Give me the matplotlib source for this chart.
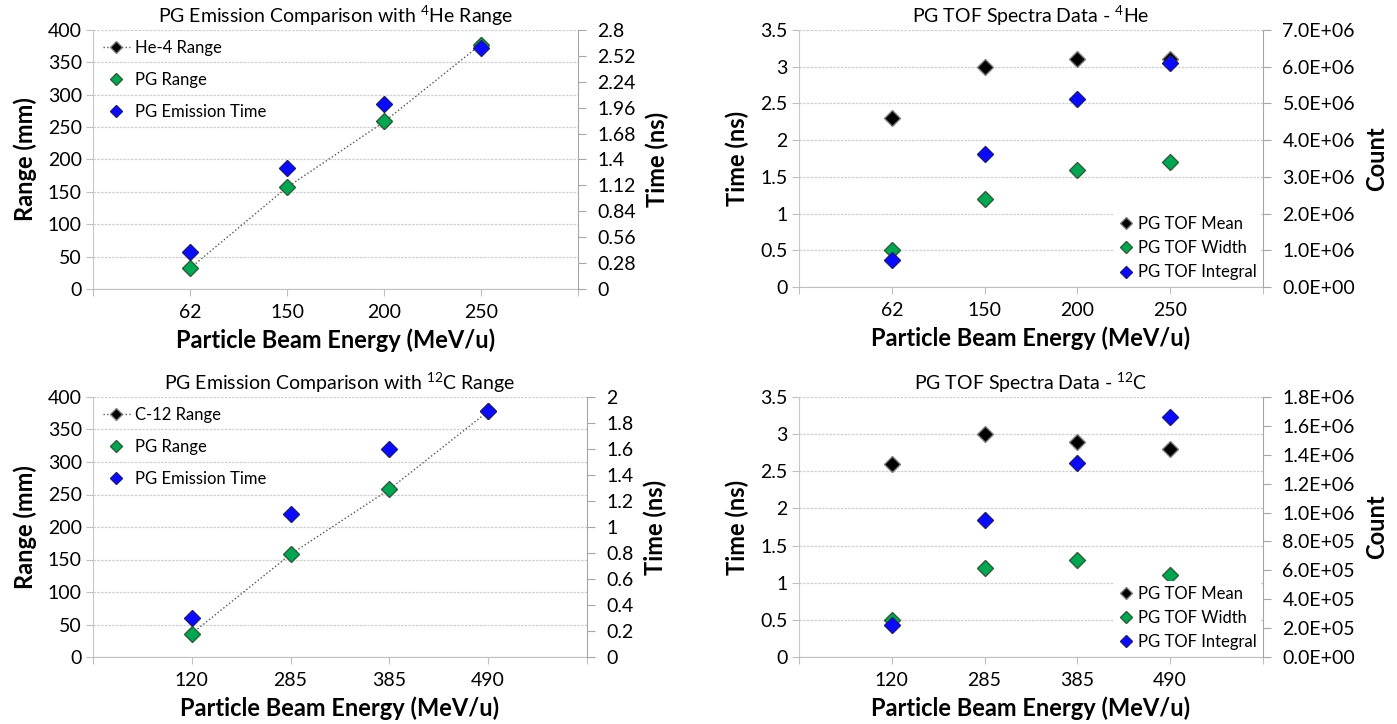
import matplotlib.pyplot as plt
from matplotlib.ticker import MultipleLocator, FuncFormatter

plt.rcParams['font.family'] = ['Lato', 'DejaVu Sans']
plt.rcParams['mathtext.fontset'] = 'custom'
plt.rcParams['mathtext.rm'] = 'Lato'

# helium-4 beam
he_energy = ['62', '150', '200', '250']
he_range = [32, 157, 258, 378]
he_pg_range = [32, 157, 259, 377]
he_pg_time = [0.40, 1.31, 2.00, 2.60]
he_tof_mean = [2.3, 3.0, 3.1, 3.1]
he_tof_width = [0.5, 1.2, 1.6, 1.7]
he_tof_integral = [7.4e5, 3.62e6, 5.13e6, 6.10e6]

# carbon-12 beam
c_energy = ['120', '285', '385', '490']
c_range = [36, 158, 258, 378]
c_pg_range = [36, 158, 259, 378]
c_pg_time = [0.30, 1.10, 1.60, 1.89]
c_tof_mean = [2.6, 3.0, 2.9, 2.8]
c_tof_width = [0.5, 1.2, 1.3, 1.1]
c_tof_integral = [2.2e5, 9.5e5, 1.34e6, 1.66e6]

GREEN = '#00a651'
BLUE = '#0a0aff'
GRID = '#cfcfcf'
SPINE = '#a6a6a6'

fig = plt.figure(figsize=(13.97, 7.24), dpi=100)

W, H = 1397, 724


def make_axes(left, right, top, bottom):
    return fig.add_axes([left / W, 1 - bottom / H, (right - left) / W, (bottom - top) / H])


def style(ax, ax2, labels, title, ylabel, y2label):
    ax.set_xlim(0, 5)
    ax.set_xticks(range(6))
    ax.set_xticklabels([''] + labels + [''])
    ax.yaxis.grid(True, color=GRID, linestyle=(0, (2, 1)), linewidth=0.9)
    ax.set_axisbelow(True)
    for s in ['top', 'right']:
        ax.spines[s].set_visible(False)
    for s in ['top', 'left', 'bottom']:
        ax2.spines[s].set_visible(False)
    ax.spines['left'].set_color('#c8c8c8')
    ax.spines['bottom'].set_color('#bfbfbf')
    ax2.spines['right'].set_color(SPINE)
    ax.tick_params(axis='both', length=5, color='#bfbfbf', labelsize=14, pad=3)
    ax.tick_params(axis='x', pad=6)
    ax2.tick_params(axis='y', length=6, color=SPINE, labelsize=14, pad=8)
    ax.set_title(title, fontsize=14, pad=5)
    ax.set_xlabel('Particle Beam Energy (MeV/u)', fontsize=17, fontweight='bold', labelpad=5)
    ax.set_ylabel(ylabel, fontsize=17, fontweight='bold', labelpad=8)
    ax2.set_ylabel(y2label, fontsize=17, fontweight='bold', labelpad=7)


def range_panel(ax, energy, rng, pg_rng, pg_time, name, tmax, tstep, tfmt, title):
    ax2 = ax.twinx()
    x = range(1, len(energy) + 1)
    h1, = ax.plot(x, rng, ls=':', lw=1, color='#555555', marker='D', ms=7.5,
                  mfc='black', mec='#7f7f7f', label=name)
    h2, = ax.plot(x, pg_rng, ls='none', marker='D', ms=8, mfc=GREEN, mec='#2d5e3a',
                  label='PG Range')
    h3, = ax2.plot(x, pg_time, ls='none', marker='D', ms=8, mfc=BLUE, mec='#1a1a80',
                   label='PG Emission Time')
    ax.set_ylim(0, 400)
    ax.yaxis.set_major_locator(MultipleLocator(50))
    ax2.set_ylim(0, tmax)
    ax2.yaxis.set_major_locator(MultipleLocator(tstep))
    ax2.yaxis.set_major_formatter(FuncFormatter(tfmt))
    style(ax, ax2, energy, title, 'Range (mm)', 'Time (ns)')
    ax2.legend([h1, h2, h3], [h.get_label() for h in (h1, h2, h3)], loc='upper left',
               frameon=False, fontsize=12, markerscale=0.8, handlelength=1.6,
               handletextpad=0.3, labelspacing=0.95, borderaxespad=0.2,
               bbox_to_anchor=(0.0, 1.0))


def tof_panel(ax, energy, mean, width, integral, cmax, cstep, title):
    ax2 = ax.twinx()
    x = range(1, len(energy) + 1)
    h1, = ax.plot(x, mean, ls='none', marker='D', ms=8, mfc='black', mec='#808080',
                  label='PG TOF Mean')
    h2, = ax.plot(x, width, ls='none', marker='D', ms=8, mfc=GREEN, mec='#2d5e3a',
                  label='PG TOF Width')
    h3, = ax2.plot(x, integral, ls='none', marker='D', ms=8, mfc=BLUE, mec='#1a1a80',
                   label='PG TOF Integral')
    ax.set_ylim(0, 3.5)
    ax.yaxis.set_major_locator(MultipleLocator(0.5))
    ax.yaxis.set_major_formatter(FuncFormatter(lambda v, p: f'{v:g}'))
    ax2.set_ylim(0, cmax)
    ax2.yaxis.set_major_locator(MultipleLocator(cstep))
    ax2.yaxis.set_major_formatter(FuncFormatter(lambda v, p: f'{v:.1E}'))
    style(ax, ax2, energy, title, 'Time (ns)', 'Count')
    leg = ax2.legend([h1, h2, h3], [h.get_label() for h in (h1, h2, h3)],
                     loc='lower right', frameon=True, fontsize=12, markerscale=0.8,
                     handlelength=0.8, handletextpad=0.3, labelspacing=0.5,
                     borderaxespad=0.1, borderpad=0.3)
    leg.get_frame().set_facecolor('white')
    leg.get_frame().set_edgecolor('none')
    leg.get_frame().set_alpha(1)


ax1 = make_axes(93, 578, 30, 289)
ax2 = make_axes(799, 1263, 30, 287)
ax3 = make_axes(93, 587, 397, 657)
ax4 = make_axes(799, 1263, 397, 657)

range_panel(ax1, he_energy, he_range, he_pg_range, he_pg_time, 'He-4 Range',
            2.8, 0.28, lambda v, p: f'{round(v, 2):g}',
            r'PG Emission Comparison with $\mathregular{^{4}}$He Range')
tof_panel(ax2, he_energy, he_tof_mean, he_tof_width, he_tof_integral, 7.0e6, 1.0e6,
          r'PG TOF Spectra Data - $\mathregular{^{4}}$He')
range_panel(ax3, c_energy, c_range, c_pg_range, c_pg_time, 'C-12 Range',
            2.0, 0.2, lambda v, p: f'{round(v, 2):g}',
            r'PG Emission Comparison with $\mathregular{^{12}}$C Range')
tof_panel(ax4, c_energy, c_tof_mean, c_tof_width, c_tof_integral, 1.8e6, 2.0e5,
          r'PG TOF Spectra Data - $\mathregular{^{12}}$C')

fig.savefig('out.png', dpi=100)
